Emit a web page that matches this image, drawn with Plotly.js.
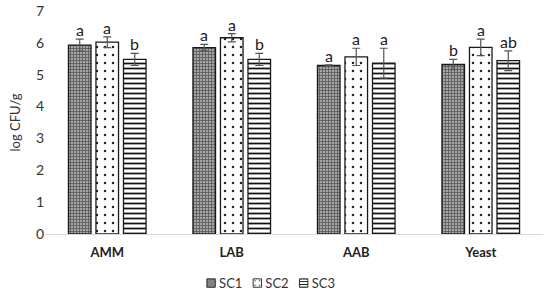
<!DOCTYPE html>
<html>
<head>
<meta charset="utf-8">
<script src="https://cdn.plot.ly/plotly-3.0.1.min.js"></script>
<style>
  html, body { margin: 0; padding: 0; background: #fff; }
  #chart { width: 550px; height: 298px; }
</style>
</head>
<body>
<div id="chart"></div>
<script>
// Microbial counts (log CFU/g) by group and starter culture
const categories = ['AMM', 'LAB', 'AAB', 'Yeast'];
const seriesNames = ['SC1', 'SC2', 'SC3'];

const sc1 = [5.93, 5.85, 5.29, 5.32];
const sc2 = [6.02, 6.16, 5.56, 5.86];
const sc3 = [5.48, 5.48, 5.36, 5.44];

const sc1Err = [0.19, 0.10, 0.02, 0.16];
const sc2Err = [0.17, 0.13, 0.27, 0.26];
const sc3Err = [0.19, 0.19, 0.47, 0.31];

const sc1Letters = ['a', 'a', 'a', 'b'];
const sc2Letters = ['a', 'a', 'a', 'a'];
const sc3Letters = ['b', 'b', 'a', 'ab'];

const FONT = 'Lato, "Open Sans", sans-serif';

const values = [sc1, sc2, sc3];
const errors = [sc1Err, sc2Err, sc3Err];
const letters = [sc1Letters, sc2Letters, sc3Letters];

const patterns = [
  { shape: '+', bgcolor: '#a6a6a6', fgcolor: '#555555', size: 3, solidity: 0.45, fillmode: 'replace' },
  { shape: '.', bgcolor: '#ffffff', fgcolor: '#222222', size: 8, solidity: 0.08, fillmode: 'replace' },
  { shape: '-', bgcolor: '#ffffff', fgcolor: '#111111', size: 5, solidity: 0.35, fillmode: 'replace' }
];

const traces = seriesNames.map((name, i) => ({
  type: 'bar',
  name: name,
  x: categories,
  y: values[i],
  marker: {
    color: '#ffffff',
    line: { color: '#1a1a1a', width: 1.3 },
    pattern: patterns[i]
  },
  error_y: {
    type: 'data',
    array: errors[i],
    visible: true,
    color: '#555555',
    thickness: 1.2,
    width: 4
  },
  hoverinfo: 'skip'
}));

// significance letters above each error bar
const slot = 27.5;
const annotations = [];
seriesNames.forEach((_, i) => {
  categories.forEach((c, j) => {
    annotations.push({
      x: c,
      y: values[i][j] + errors[i][j],
      xref: 'x',
      yref: 'y',
      text: letters[i][j],
      showarrow: false,
      xanchor: 'center',
      yanchor: 'bottom',
      xshift: (i - 1) * slot,
      yshift: -2,
      font: { family: FONT, size: 16, color: '#222' }
    });
  });
});

const layout = {
  width: 550,
  height: 298,
  margin: { l: 45, r: 7, t: 11, b: 64 },
  paper_bgcolor: '#ffffff',
  plot_bgcolor: '#ffffff',
  barmode: 'group',
  bargap: 0.337,
  bargroupgap: 0.18,
  showlegend: true,
  legend: {
    orientation: 'h',
    xref: 'container',
    yref: 'container',
    x: 0.5,
    xanchor: 'center',
    y: 0.05,
    yanchor: 'middle',
    font: { family: FONT, size: 13, color: '#333' },
    itemwidth: 30,
    tracegroupgap: 0
  },
  xaxis: {
    showline: true,
    linecolor: '#d9d9d9',
    linewidth: 1,
    ticks: '',
    ticklabelstandoff: 6,
    tickfont: { family: FONT, size: 13, color: '#222', weight: 'bold' },
    showgrid: false,
    zeroline: false
  },
  yaxis: {
    range: [0, 7],
    dtick: 1,
    showline: false,
    showgrid: false,
    zeroline: false,
    ticks: '',
    tickfont: { family: FONT, size: 14, color: '#333' },
    title: { text: 'log CFU/g', font: { family: FONT, size: 13, color: '#333' }, standoff: 12 }
  },
  annotations: annotations,
  font: { family: FONT }
};

// compact legend: small swatches with the label right next to them
function compactLegend(gd) {
  const legend = gd.querySelector('.legend');
  if (!legend) return;
  const items = legend.querySelectorAll('.traces');
  let x = 0;
  let total = 0;
  items.forEach((it) => {
    const sym = it.querySelector('.legendsymbols');
    if (sym) sym.setAttribute('transform', 'translate(12,0) scale(0.7) translate(-20,0)');
    const txt = it.querySelector('.legendtext');
    if (txt) txt.setAttribute('x', 20);
    const w = txt ? txt.getComputedTextLength() : 20;
    const m = /translate\(([-\d.]+),\s*([-\d.]+)\)/.exec(it.getAttribute('transform') || '');
    const y = m ? parseFloat(m[2]) : 0;
    it.setAttribute('transform', 'translate(' + x + ',' + y + ')');
    total = x + 20 + w;
    x += w + 23;
  });
  const lm = /translate\(([-\d.]+),\s*([-\d.]+)\)/.exec(legend.getAttribute('transform') || '');
  const ly = lm ? parseFloat(lm[2]) : 0;
  const left = gd._fullLayout.width / 2 - (total - 8) / 2 - 12;
  legend.setAttribute('transform', 'translate(' + left + ',' + ly + ')');
}

Plotly.newPlot('chart', traces, layout, { displayModeBar: false, staticPlot: true })
  .then(compactLegend);
</script>
</body>
</html>
